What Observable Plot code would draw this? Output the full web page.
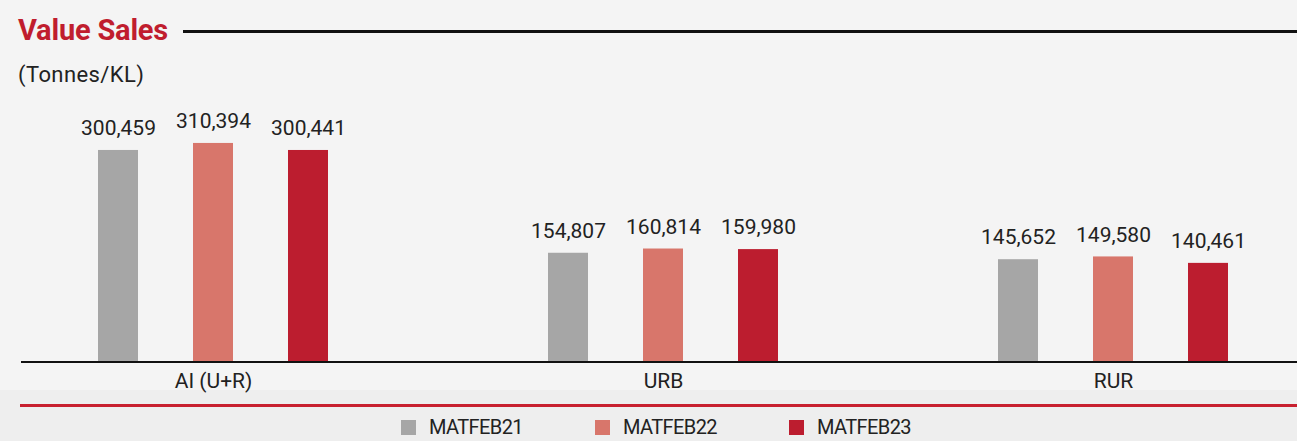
<!DOCTYPE html>
<html>
<head>
<meta charset="utf-8">
<script src="https://cdn.jsdelivr.net/npm/d3@7"></script>
<script src="https://cdn.jsdelivr.net/npm/@observablehq/plot@0.6"></script>
<style>
  html, body { margin: 0; padding: 0; background: #f4f4f4; }
  #wrap { position: relative; width: 1297px; height: 441px; overflow: hidden; font-family: Roboto, "Open Sans", sans-serif; color: #222; }
  .abs { position: absolute; }
  #title { left: 18px; top: 12px; font-size: 29px; line-height: 36px; font-weight: 700; color: #c01d2e; letter-spacing: -0.2px; }
  #titleLine { left: 183px; top: 30px; width: 1114px; height: 3px; background: #111; }
  #subtitle { left: 18px; top: 61px; font-size: 22px; line-height: 28px; letter-spacing: 0.4px; color: #222; }
  #lower { left: 0; top: 390px; width: 1297px; height: 51px; background: #eeeeee; }
  #redLine { left: 20px; top: 404px; width: 1277px; height: 3px; background: #c8202f; }
  #chart { left: 0; top: 95px; }
  #legend { left: 401px; top: 414px; display: flex; font-size: 20px; line-height: 26px; letter-spacing: -0.6px; color: #222; }
  .item { display: flex; align-items: center; width: 194px; }
  .sw { width: 15px; height: 15px; margin-right: 13px; }
</style>
</head>
<body>
<div id="wrap">
  <div id="lower" class="abs"></div>
  <div id="title" class="abs">Value Sales</div>
  <div id="titleLine" class="abs"></div>
  <div id="subtitle" class="abs">(Tonnes/KL)</div>
  <div id="chart" class="abs"></div>
  <div id="redLine" class="abs"></div>
  <div id="legend" class="abs"></div>
</div>
<script>
const categories = ["AI (U+R)", "URB", "RUR"];
const series = ["MATFEB21", "MATFEB22", "MATFEB23"];
const colors = ["#a6a6a6", "#d8766b", "#bc1d2f"];
const MATFEB21 = [300459, 154807, 145652];
const MATFEB22 = [310394, 160814, 149580];
const MATFEB23 = [300441, 159980, 140461];

const valuesBySeries = {MATFEB21, MATFEB22, MATFEB23};
const data = [];
categories.forEach((c, i) => {
  series.forEach(s => data.push({cat: c, series: s, value: valuesBySeries[s][i]}));
});
const fmt = d3.format(",");

const plot = Plot.plot({
  width: 1297,
  height: 310,
  marginTop: 20,
  marginBottom: 43,
  marginLeft: 98,
  marginRight: 69,
  style: {background: "transparent", fontSize: "21px", fontFamily: "Roboto, 'Open Sans', sans-serif", color: "#222"},
  facet: {data, x: "cat"},
  fx: {domain: categories, padding: 0.489, label: null, tickSize: 0, tickPadding: 11},
  x: {domain: series, paddingInner: 0.58, paddingOuter: 0, axis: null},
  y: {domain: [0, 350000], axis: null},
  color: {domain: series, range: colors},
  marks: [
    Plot.barY(data, {x: "series", y: "value", fill: "series"}),
    Plot.text(data, {x: "series", y: "value", text: d => fmt(d.value), dy: -22, fontSize: 21, fill: "#222"})
  ]
});
document.getElementById("chart").appendChild(plot);

const yScale = plot.scale("y");
const y0 = yScale.apply(0);
d3.select(plot).append("line")
  .attr("x1", 21).attr("x2", 1297)
  .attr("y1", y0).attr("y2", y0)
  .attr("stroke", "#111").attr("stroke-width", 2);

const legend = d3.select("#legend");
series.forEach((s, i) => {
  const it = legend.append("div").attr("class", "item");
  it.append("div").attr("class", "sw").style("background", colors[i]);
  it.append("span").text(s);
});
</script>
</body>
</html>
